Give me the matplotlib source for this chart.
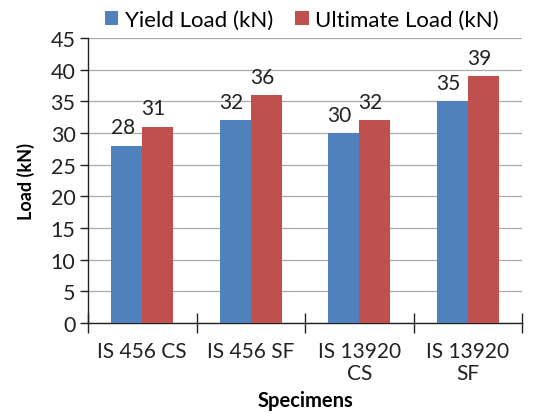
import matplotlib
matplotlib.use("Agg")
import matplotlib.pyplot as plt
import numpy as np

categories = ["IS 456 CS", "IS 456 SF", "IS 13920\nCS", "IS 13920\nSF"]
yield_load = [28, 32, 30, 35]
ultimate_load = [31, 36, 32, 39]
series_names = ["Yield Load (kN)", "Ultimate Load (kN)"]
colors = ["#4F81BD", "#C0504D"]

plt.rcParams['font.family'] = ['Lato', 'DejaVu Sans']

fig = plt.figure(figsize=(5.39, 4.14), dpi=100)
ax = fig.add_axes([88/539, 1-324/414, (522-88)/539, (324-39)/414])

x = np.arange(len(categories))
w = 0.285
b1 = ax.bar(x - w/2, yield_load, w, color=colors[0], label=series_names[0], zorder=3)
b2 = ax.bar(x + w/2, ultimate_load, w, color=colors[1], label=series_names[1], zorder=3)

for bars, vals in ((b1, yield_load), (b2, ultimate_load)):
    for r, v in zip(bars, vals):
        ax.annotate(str(v), (r.get_x() + r.get_width()/2, v), xytext=(-3, 6),
                    textcoords="offset points", ha="center", va="bottom",
                    fontsize=15, color="#222222")

ax.set_xlim(-0.5, len(categories) - 0.5)
ax.set_ylim(0, 45)
ax.set_yticks(np.arange(0, 46, 5))
ax.tick_params(axis='y', labelsize=15.5, length=6, width=1, pad=3, direction='out', colors='#222222')
ax.set_xticks(x)
ax.set_xticklabels(categories, fontsize=15, color='#222222', linespacing=1.1)
ax.tick_params(axis='x', length=0, pad=13)
ax.set_xticks(np.arange(-0.5, len(categories), 1), minor=True)
ax.tick_params(axis='x', which='minor', length=14, width=1, direction='inout', color='#222222')

ax.grid(axis='y', color='#AAAAAA', linewidth=0.9, zorder=0)
for s in ('top', 'right'):
    ax.spines[s].set_visible(False)
ax.spines['left'].set_color('#222222')
ax.spines['bottom'].set_color('#222222')
ax.spines['left'].set_linewidth(1.0)
ax.spines['bottom'].set_linewidth(1.0)

ax.set_ylabel("Load (kN)", fontsize=13, fontweight='bold', labelpad=11)
ax.set_xlabel("Specimens", fontsize=14.5, fontweight='bold', labelpad=5)

fig.legend(handles=[b1, b2], labels=series_names, loc='center', bbox_to_anchor=(302/539, 1-21/414),
           ncol=2, frameon=False, fontsize=16, handlelength=0.6, handleheight=0.6,
           handletextpad=0.3, columnspacing=1.0)

fig.savefig("out.png", dpi=100)
